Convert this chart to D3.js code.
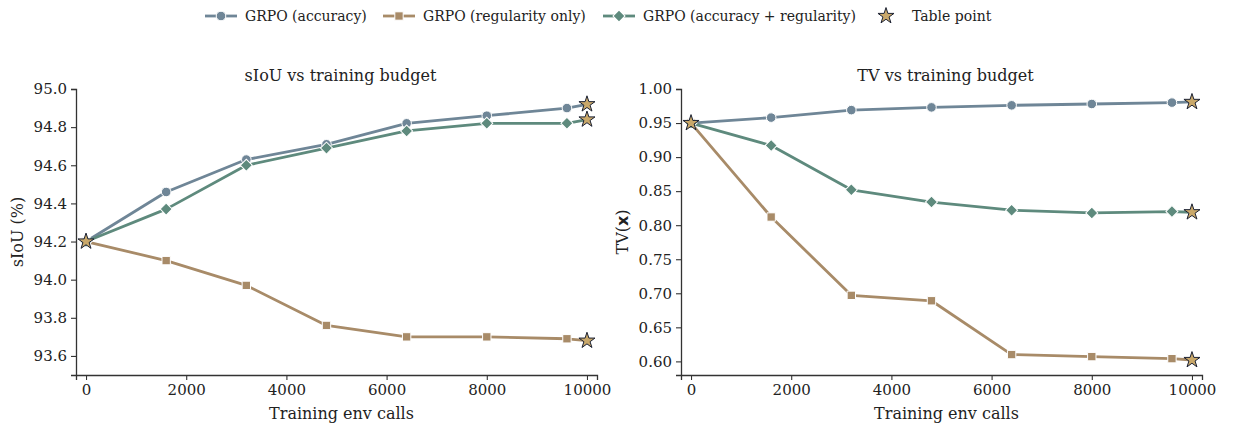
<!DOCTYPE html>
<html>
<head>
<meta charset="utf-8">
<script src="https://cdn.jsdelivr.net/npm/d3@7"></script>
<style>
  body { margin: 0; background: #fff; }
  svg text { font-family: "DejaVu Serif", serif; fill: #222; }
</style>
</head>
<body>
<svg id="chart" width="1234" height="428"></svg>
<script>
// training env calls (last point = table point)
const calls = [0, 1600, 3200, 4800, 6400, 8000, 9600, 10000]

const siouAcc = [94.2, 94.46, 94.63, 94.71, 94.82, 94.86, 94.90, 94.92]
const siouReg = [94.2, 94.10, 93.97, 93.76, 93.70, 93.70, 93.69, 93.68]
const siouBoth = [94.2, 94.37, 94.60, 94.69, 94.78, 94.82, 94.82, 94.84]

const tvAcc = [0.95, 0.958, 0.969, 0.973, 0.976, 0.978, 0.980, 0.981]
const tvReg = [0.95, 0.812, 0.697, 0.689, 0.610, 0.607, 0.604, 0.602]
const tvBoth = [0.95, 0.917, 0.852, 0.834, 0.822, 0.818, 0.820, 0.819]

const xTicks = [0, 2000, 4000, 6000, 8000, 10000]
const siouTicks = [93.6, 93.8, 94.0, 94.2, 94.4, 94.6, 94.8, 95.0]
const tvTicks = [0.60, 0.65, 0.70, 0.75, 0.80, 0.85, 0.90, 0.95, 1.00]

const seriesNames = ['GRPO (accuracy)', 'GRPO (regularity only)', 'GRPO (accuracy + regularity)']
const colors = ['#6f8697', '#a88b68', '#5e8a7d']
const shapes = [d3.symbolCircle, d3.symbolSquare, d3.symbolSquare]
const shapeSize = [72, 70, 72]
const shapeRot = [0, 0, 45]
const starFill = '#c9a86a'
const starStroke = '#1c2233'
const starSize = 80

const svg = d3.select('#chart')

function styleAxis(a) {
    a.select('.domain').attr('stroke', '#333').attr('stroke-width', 1.3)
    a.selectAll('line').attr('stroke', '#333').attr('stroke-width', 1.1)
    a.selectAll('text').attr('font-size', 15).attr('font-family', 'DejaVu Serif').attr('fill', '#222')
}

function panel(left, title, yLabel, yDomain, yTicks, yFmt, data) {
    const plot = {x0: left, x1: left + 521, y0: 89, y1: 375}
    const x = d3.scaleLinear().domain([-200, 10200]).range([plot.x0, plot.x1])
    const y = d3.scaleLinear().domain(yDomain).range([plot.y1, plot.y0])
    const g = svg.append('g')

    g.append('g')
        .attr('transform', `translate(0, ${plot.y1})`)
        .call(d3.axisBottom(x).tickValues(xTicks).tickFormat(d3.format('d')).tickSizeOuter(0).tickSize(5).tickPadding(4))
        .call(styleAxis)

    g.append('g')
        .attr('transform', `translate(${plot.x0}, 0)`)
        .call(d3.axisLeft(y).tickValues(yTicks).tickFormat(d3.format(yFmt)).tickSizeOuter(0).tickSize(5).tickPadding(4))
        .call(styleAxis)

    g.append('text')
        .attr('x', (plot.x0 + plot.x1) / 2 + 4)
        .attr('y', 81)
        .attr('text-anchor', 'middle')
        .attr('font-size', 16)
        .text(title)

    g.append('text')
        .attr('x', (plot.x0 + plot.x1) / 2 + 5)
        .attr('y', 419)
        .attr('text-anchor', 'middle')
        .attr('font-size', 16)
        .text('Training env calls')

    const yl = g.append('text')
        .attr('transform', `translate(${plot.x0 - 53}, ${(plot.y0 + plot.y1) / 2}) rotate(-90)`)
        .attr('text-anchor', 'middle')
        .attr('font-size', 16)
    yLabel(yl)

    const line = d3.line().x(d => x(d[0])).y(d => y(d[1]))

    data.forEach((vals, i) => {
        const pts = calls.map((c, j) => [c, vals[j]])
        g.append('path')
            .datum(pts)
            .attr('d', line)
            .attr('fill', 'none')
            .attr('stroke', colors[i])
            .attr('stroke-width', 2.8)
            .attr('stroke-linejoin', 'round')

        g.selectAll(null)
            .data(pts.slice(0, -1))
            .enter()
            .append('path')
            .attr('d', d3.symbol(shapes[i], shapeSize[i]))
            .attr('transform', d => `translate(${x(d[0])}, ${y(d[1])}) rotate(${shapeRot[i]})`)
            .attr('fill', colors[i])
            .attr('stroke', '#fff')
            .attr('stroke-width', 1)
    })

    // table points: start (shared) and end of each series
    const stars = [[calls[0], data[0][0]]].concat(data.map(v => [calls[calls.length - 1], v[v.length - 1]]))
    g.selectAll(null)
        .data(stars)
        .enter()
        .append('path')
        .attr('d', d3.symbol(d3.symbolStar, starSize))
        .attr('transform', d => `translate(${x(d[0])}, ${y(d[1])})`)
        .attr('fill', starFill)
        .attr('stroke', starStroke)
        .attr('stroke-width', 1)
}

panel(76, 'sIoU vs training budget', t => t.text('sIoU (%)'), [93.5, 95.0], siouTicks, '.1f', [siouAcc, siouReg, siouBoth])
panel(681, 'TV vs training budget', t => {
    t.append('tspan').text('TV(')
    t.append('tspan').attr('font-family', 'DejaVu Sans').attr('font-weight', 'bold').text('x')
    t.append('tspan').text(')')
}, [0.58, 1.00], tvTicks, '.2f', [tvAcc, tvReg, tvBoth])

// legend
const legend = svg.append('g').attr('transform', 'translate(0, 16)')
const legendX = [205, 383, 603]
seriesNames.forEach((name, i) => {
    const lg = legend.append('g').attr('transform', `translate(${legendX[i]}, 0)`)
    lg.append('line').attr('x1', 0).attr('x2', 32).attr('stroke', colors[i]).attr('stroke-width', 2.8)
    lg.append('path')
        .attr('d', d3.symbol(shapes[i], shapeSize[i]))
        .attr('transform', `translate(16, 0) rotate(${shapeRot[i]})`)
        .attr('fill', colors[i])
        .attr('stroke', '#fff')
        .attr('stroke-width', 1)
    lg.append('text').attr('x', 40).attr('dy', '0.35em').attr('font-size', 14).text(name)
})
const starLeg = legend.append('g').attr('transform', 'translate(886, 0)')
starLeg.append('path')
    .attr('d', d3.symbol(d3.symbolStar, starSize))
    .attr('fill', starFill)
    .attr('stroke', starStroke)
    .attr('stroke-width', 1)
starLeg.append('text').attr('x', 26).attr('dy', '0.35em').attr('font-size', 14).text('Table point')
</script>
</body>
</html>
